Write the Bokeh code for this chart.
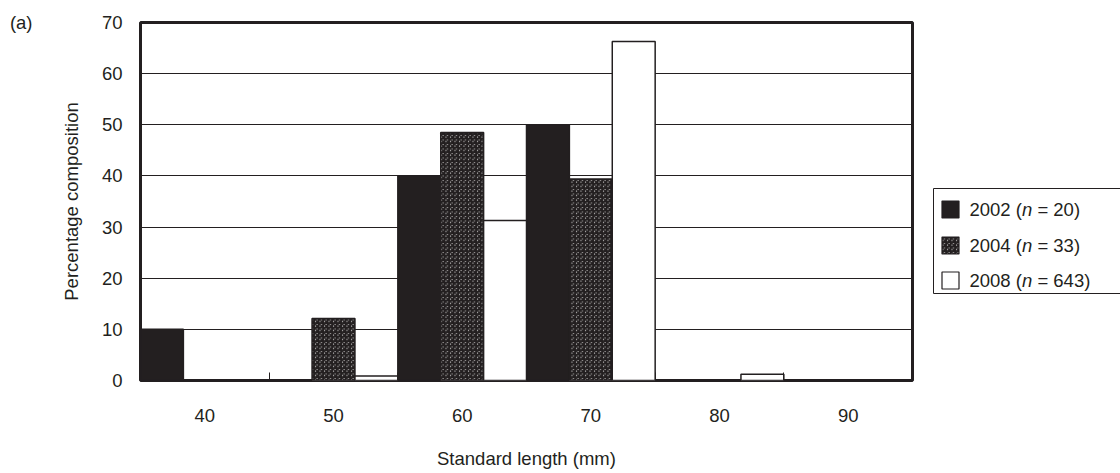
from bokeh.plotting import figure
from bokeh.layouts import row
from bokeh.models import Range1d, FixedTicker, ColumnDataSource, LinearAxis
from bokeh.core.properties import value
from bokeh.embed import file_html
from bokeh.resources import INLINE

# ---- data ----
lengths = [40, 50, 60, 70, 80, 90]
years = ["2002", "2004", "2008"]
sample_sizes = ["20", "33", "643"]
pct_2002 = [10.0, 0.0, 40.0, 50.0, 0.0, 0.0]
pct_2004 = [0.0, 12.1, 48.5, 39.4, 0.0, 0.0]
pct_2008 = [0.0, 0.9, 31.3, 66.3, 1.2, 0.0]
y_ticks = [0, 10, 20, 30, 40, 50, 60, 70]
panel_tag = "(a)"

INK = "#231f20"
FONT = "Liberation Sans"
FS_PX = 18.5
FS = f"{FS_PX}px"
H = 473
TOP, BOTTOM = 22, 93          # frame borders (shared by both panels)

bin_w = 10
bar_w = bin_w / 3.0

styles = [
    dict(fill_color=INK),
    dict(fill_color="white", hatch_pattern="criss_cross", hatch_color=INK, hatch_scale=4.5, hatch_weight=1.7),
    dict(fill_color="white"),
]

# ---------------- main chart ----------------
MAIN_W, LEG_W = 920, 200
p = figure(width=MAIN_W, height=H, output_backend="svg", toolbar_location=None,
           x_range=Range1d(lengths[0] - bin_w / 2, lengths[-1] + bin_w / 2),
           y_range=Range1d(y_ticks[0], y_ticks[-1]),
           min_border_left=140, min_border_right=8, min_border_top=TOP, min_border_bottom=BOTTOM)
p.background_fill_color = "white"
p.border_fill_color = "white"
p.outline_line_color = INK
p.outline_line_width = 3

series = [pct_2002, pct_2004, pct_2008]
offsets = [-bar_w, 0.0, bar_w]
for vals, off, st in zip(series, offsets, styles):
    src = ColumnDataSource(dict(x=[c + off for c in lengths], top=vals))
    p.vbar(x="x", top="top", bottom=0, width=bar_w, source=src,
           line_color=INK, line_width=1.5, **st)

xa = p.xaxis[0]
xa.ticker = FixedTicker(ticks=lengths, minor_ticks=[c + bin_w / 2 for c in lengths[:-1]])
xa.major_tick_line_color = None
xa.major_tick_in = 0
xa.major_tick_out = 0
xa.minor_tick_line_color = INK
xa.minor_tick_line_width = 1
xa.minor_tick_in = 8
xa.minor_tick_out = 0
xa.axis_line_color = None
xa.major_label_standoff = 28
xa.axis_label = "Standard length (mm)"
xa.axis_label_standoff = 23

ya = p.yaxis[0]
ya.ticker = FixedTicker(ticks=y_ticks)
ya.major_tick_line_color = None
ya.minor_tick_line_color = None
ya.major_tick_in = 0
ya.major_tick_out = 0
ya.axis_line_color = None
ya.major_label_standoff = 18
ya.axis_label = "Percentage composition"
ya.axis_label_standoff = 17

# outer left axis carrying only the panel tag, level with the top of the frame
tag_axis = LinearAxis(ticker=FixedTicker(ticks=[y_ticks[-1]]),
                      major_label_overrides={y_ticks[-1]: panel_tag})
tag_axis.axis_line_color = None
tag_axis.major_tick_line_color = None
tag_axis.minor_tick_line_color = None
tag_axis.major_tick_in = 0
tag_axis.major_tick_out = 0
tag_axis.major_label_standoff = 25
p.add_layout(tag_axis, "left")

for ax in (xa, ya, tag_axis):
    ax.major_label_text_font = FONT
    ax.major_label_text_font_size = FS
    ax.major_label_text_color = INK
    ax.axis_label_text_font = FONT
    ax.axis_label_text_font_size = FS
    ax.axis_label_text_font_style = "normal"
    ax.axis_label_text_color = INK

p.xgrid.visible = False
p.ygrid.ticker = FixedTicker(ticks=y_ticks)
p.ygrid.grid_line_color = INK
p.ygrid.grid_line_width = 1

# ---------------- legend panel (its own small canvas, pixel coordinates) ----------------
leg = figure(width=LEG_W, height=H, output_backend="svg", toolbar_location=None,
             x_range=Range1d(0, LEG_W), y_range=Range1d(H - BOTTOM, TOP),
             x_axis_location=None, y_axis_location=None,
             min_border_left=0, min_border_right=0, min_border_top=TOP, min_border_bottom=BOTTOM)
leg.outline_line_color = None
leg.grid.visible = False
leg.background_fill_color = "white"
leg.border_fill_color = "white"

box_left, box_top, box_bottom = 13, 188, 293
row_y = [209, 245, 280]
sw = 17
sw_x = 30
text_x0 = 49
leg.quad(left=[box_left], right=[LEG_W + 20], top=[box_top], bottom=[box_bottom],
         fill_color="white", line_color=INK, line_width=1)

adv = {**{d: 0.556 for d in "0123456789"}, " ": 0.278, "(": 0.333, ")": 0.333, "=": 0.584, "n": 0.556}
def width(s):
    return sum(adv[ch] for ch in s) * FS_PX

for yr, n, yc, st in zip(years, sample_sizes, row_y, styles):
    leg.rect(x=[sw_x], y=[yc], width=sw, height=sw, line_color=INK, line_width=1.2, **st)
    parts = [(yr + " (", "normal", 0.0), ("n", "italic", width(" ")), ("= " + n + ")", "normal", 0.0)]
    xo = text_x0
    for txt, style, gap in parts:
        leg.text(x=[xo], y=[yc], text=[txt], text_font=value(FONT), text_font_size=value(FS),
                 text_font_style=style, text_color=INK, text_baseline="middle", text_align="left")
        xo += width(txt) + gap

layout = row(p, leg, spacing=0)
open("out.html", "w").write(file_html(layout, INLINE))
